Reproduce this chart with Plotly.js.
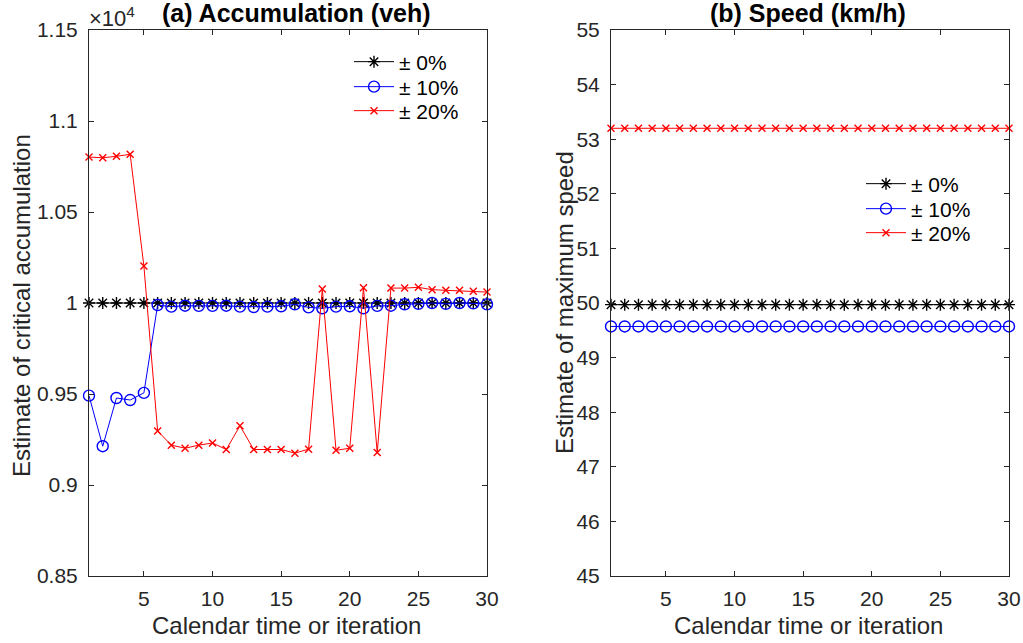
<!DOCTYPE html>
<html><head><meta charset="utf-8">
<script src="https://cdn.plot.ly/plotly-3.0.1.min.js"></script>
<style>html,body{margin:0;padding:0;background:#fff}#chart{width:1023px;height:643px}</style>
</head><body><div id="chart"></div>
<script>
const iterations = [1,2,3,4,5,6,7,8,9,10,11,12,13,14,15,16,17,18,19,20,21,22,23,24,25,26,27,28,29,30];
const seriesNames = ['\u00B1 0%', '\u00B1 10%', '\u00B1 20%'];
// (a) critical accumulation estimates (veh)
const accum0 = [10000,10000,10000,10000,10000,10000,10000,10000,10000,10000,10000,10000,10000,10000,10000,10000,10000,10000,10000,10000,10000,10000,10000,10000,10000,10000,10000,10000,10000,10000];
const accum10 = [9491,9213,9478,9467,9506,9989,9980,9985,9984,9984,9985,9980,9978,9980,9982,9993,9976,9971,9980,9982,9971,9984,9985,9993,9995,10000,9995,10000,9998,9993];
const accum20 = [10802,10798,10806,10817,10203,9297,9219,9202,9219,9231,9195,9325,9195,9195,9195,9175,9197,10077,9191,9202,10084,9178,10082,10082,10086,10073,10070,10070,10064,10060];
// (b) maximum speed estimates (km/h)
const speed0 = [49.97,49.97,49.97,49.97,49.97,49.97,49.97,49.97,49.97,49.97,49.97,49.97,49.97,49.97,49.97,49.97,49.97,49.97,49.97,49.97,49.97,49.97,49.97,49.97,49.97,49.97,49.97,49.97,49.97,49.97];
const speed10 = [49.57,49.57,49.57,49.57,49.57,49.57,49.57,49.57,49.57,49.57,49.57,49.57,49.57,49.57,49.57,49.57,49.57,49.57,49.57,49.57,49.57,49.57,49.57,49.57,49.57,49.57,49.57,49.57,49.57,49.57];
const speed20 = [53.2,53.2,53.2,53.2,53.2,53.2,53.2,53.2,53.2,53.2,53.2,53.2,53.2,53.2,53.2,53.2,53.2,53.2,53.2,53.2,53.2,53.2,53.2,53.2,53.2,53.2,53.2,53.2,53.2,53.2];
const xTickVals = [5,10,15,20,25,30];
const accumTickVals = [8500,9000,9500,10000,10500,11000,11500];
const accumTickText = ['0.85','0.9','0.95','1','1.05','1.1','1.15'];
const speedTickVals = [45,46,47,48,49,50,51,52,53,54,55];

const W = 1023, H = 643;
const FONT = 'Liberation Sans, Arial, Helvetica, sans-serif';
const AX = '#262626';
const styles = [
  {color:'#000000', symbol:'asterisk-open', size:10},
  {color:'#0000ff', symbol:'circle-open', size:11},
  {color:'#ff0000', symbol:'x-thin-open', size:7}
];
function mk(y, i, xa, ya, leg) {
  const s = styles[i];
  return {x: iterations, y: y, type:'scatter', mode:'lines+markers', name: seriesNames[i],
    xaxis: xa, yaxis: ya, legend: leg, cliponaxis:false,
    line:{color:s.color, width:1},
    marker:{symbol:s.symbol, size:s.size, color:s.color, line:{color:s.color, width:1.4}}};
}
const traces = [
  mk(accum0,0,'x','y','legend'), mk(accum10,1,'x','y','legend2'), mk(accum20,2,'x','y','legend3'),
  mk(speed0,0,'x2','y2','legend4'), mk(speed10,1,'x2','y2','legend5'), mk(speed20,2,'x2','y2','legend6')
];
const axBase = {showline:true, linecolor:AX, linewidth:1, mirror:'ticks', ticks:'inside', ticklen:5,
  tickcolor:AX, showgrid:false, zeroline:false, automargin:false, fixedrange:true,
  tickfont:{family:FONT, size:21, color:AX}};
const yDom = [(H-576)/H, (H-30)/H];
function leg(xpx, ypx) {
  return {x:xpx/W, y:1-ypx/H, xanchor:'left', yanchor:'middle', bgcolor:'rgba(0,0,0,0)', borderwidth:0,
    font:{family:FONT, size:21, color:'#000'}, itemwidth:40};
}
const layout = {
  width:W, height:H, margin:{l:0,r:0,t:0,b:0}, paper_bgcolor:'#fff', plot_bgcolor:'#fff',
  font:{family:FONT, color:AX},
  xaxis: Object.assign({}, axBase, {domain:[89/W, 487/W], range:[1,30], tickvals:xTickVals, anchor:'y', ticklabelstandoff:4}),
  yaxis: Object.assign({}, axBase, {domain:yDom, range:[8500,11500], tickvals:accumTickVals, ticktext:accumTickText, anchor:'x', ticklabelstandoff:6}),
  xaxis2: Object.assign({}, axBase, {domain:[611/W, 1009/W], range:[1,30], tickvals:xTickVals, anchor:'y2', ticklabelstandoff:4}),
  yaxis2: Object.assign({}, axBase, {domain:yDom, range:[45,55], tickvals:speedTickVals, anchor:'x2', ticklabelstandoff:6}),
  legend: leg(349, 62), legend2: leg(349, 87), legend3: leg(349, 111),
  legend4: leg(861, 184), legend5: leg(861, 209), legend6: leg(861, 233),
  showlegend:true,
  annotations: [
    {text:'<b>(a) Accumulation (veh)</b>', x:296/W, y:1-13/H, xref:'paper', yref:'paper', xanchor:'center', yanchor:'middle', showarrow:false, font:{family:FONT, size:25, color:'#000'}},
    {text:'<b>(b) Speed (km/h)</b>', x:808/W, y:1-13/H, xref:'paper', yref:'paper', xanchor:'center', yanchor:'middle', showarrow:false, font:{family:FONT, size:25, color:'#000'}},
    {text:'\u00D710<sup>4</sup>', x:87/W, y:1-17/H, xref:'paper', yref:'paper', xanchor:'left', yanchor:'middle', showarrow:false, font:{family:FONT, size:22, color:AX}},
    {text:'Calendar time or iteration', x:286/W, y:1-625/H, xref:'paper', yref:'paper', xanchor:'center', yanchor:'middle', showarrow:false, font:{family:FONT, size:24, color:AX}},
    {text:'Calendar time or iteration', x:808/W, y:1-625/H, xref:'paper', yref:'paper', xanchor:'center', yanchor:'middle', showarrow:false, font:{family:FONT, size:24, color:AX}},
    {text:'Estimate of critical accumulation', x:21/W, y:1-306/H, xref:'paper', yref:'paper', xanchor:'center', yanchor:'middle', textangle:-90, showarrow:false, font:{family:FONT, size:24, color:AX}},
    {text:'Estimate of maximum speed', x:564/W, y:1-303/H, xref:'paper', yref:'paper', xanchor:'center', yanchor:'middle', textangle:-90, showarrow:false, font:{family:FONT, size:24, color:AX}}
  ]
};
Plotly.newPlot('chart', traces, layout, {displayModeBar:false, staticPlot:true});
</script></body></html>
